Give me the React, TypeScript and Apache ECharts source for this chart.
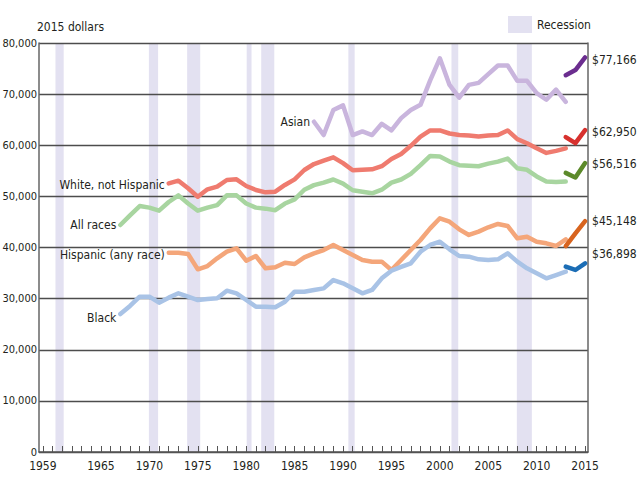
import React, { useEffect, useRef } from "react";
import * as echarts from "echarts";

const FONT = "'DejaVu Sans Condensed', 'Liberation Sans Narrow', sans-serif";

const yearsFrom = (start: number, end: number) => {
  const out: number[] = [];
  for (let y = start; y <= end; y++) out.push(y);
  return out;
};

const allRacesOld = [44400, 46300, 48100, 47800, 47200, 48900, 50200, 48600, 47200, 47800, 48300, 50200, 50200, 48600, 47800, 47600, 47300, 48600, 49400, 51300, 52200, 52700, 53300, 52500, 51200, 50900, 50600, 51300, 52700, 53300, 54400, 56100, 57900, 57800, 56800, 56100, 56000, 55900, 56400, 56800, 57400, 55500, 55200, 53900, 52900, 52800, 52900];
const whiteOld = [52550, 53070, 51580, 49940, 51380, 51900, 53200, 53330, 52030, 51250, 50790, 50920, 52230, 53330, 55160, 56330, 57000, 57640, 56500, 55100, 55200, 55300, 55900, 57300, 58300, 59900, 61700, 62900, 62900, 62300, 62000, 61900, 61700, 61900, 62000, 62900, 61200, 60400, 59400, 58500, 58900, 59400];
const asianOld = [64600, 62000, 66900, 67800, 62000, 62700, 62000, 64200, 62900, 65300, 66900, 67900, 72700, 77000, 71800, 69300, 71800, 72200, 73900, 75600, 75600, 72600, 72600, 70200, 68900, 70900, 68500];
const hispanicOld = [38990, 38990, 38730, 35730, 36380, 37880, 39180, 39840, 37420, 38340, 35930, 36120, 37030, 36770, 38080, 38860, 39500, 40490, 39510, 38530, 37560, 37230, 37230, 35600, 37560, 39510, 41470, 43750, 45710, 45050, 43550, 42450, 43100, 43950, 44600, 44210, 41800, 42120, 41140, 40820, 40290, 41600];
const blackOld = [26990, 28560, 30380, 30380, 29210, 30190, 31040, 30380, 29730, 29930, 30060, 31560, 31040, 29730, 28420, 28420, 28300, 29400, 31360, 31360, 31690, 32000, 33640, 33000, 32020, 31040, 31690, 33970, 35470, 36200, 36910, 39180, 40490, 41140, 39650, 38340, 38210, 37690, 37560, 37690, 38860, 37230, 35930, 34950, 33970, 34620, 35270];

const newYears = [2013, 2014, 2015];
const asianNew = [73700, 74700, 77166];
const whiteNew = [61600, 60400, 62950];
const allRacesNew = [54600, 53700, 56516];
const hispanicNew = [40290, 42780, 45148];
const blackNew = [36250, 35600, 36898];

const recessions: [number, number][] = [
  [1960.3, 1961.15],
  [1969.95, 1970.9],
  [1973.9, 1975.25],
  [1980.05, 1980.55],
  [1981.55, 1982.9],
  [1990.55, 1991.2],
  [2001.2, 2001.9],
  [2007.95, 2009.5],
];

const xLabelYears = [1959, 1965, 1970, 1975, 1980, 1985, 1990, 1995, 2000, 2005, 2010, 2015];
const xTickYears = yearsFrom(1959, 2015);

const fmt = (v: number) => v.toLocaleString("en-US");

function oldSeries(name: string, start: number, vals: number[], color: string, labelOffset: number[]) {
  const yrs = yearsFrom(start, start + vals.length - 1);
  return {
    type: "line",
    name,
    showSymbol: true,
    symbol: "circle",
    symbolSize: 0,
    z: 3,
    lineStyle: { color, width: 4.5, join: "round", cap: "round" },
    itemStyle: { color },
    label: { show: false },
    data: yrs.map((y, i) =>
      i === 0
        ? {
            value: [y, vals[i]],
            label: {
              show: true,
              position: "left",
              distance: 4,
              offset: labelOffset,
              formatter: name,
              fontFamily: FONT,
              fontSize: 12,
              color: "#231f20",
            },
          }
        : { value: [y, vals[i]] }
    ),
  };
}

function newSeries(name: string, vals: number[], color: string, labelOffset: number[]) {
  return {
    type: "line",
    name,
    showSymbol: true,
    symbol: "circle",
    symbolSize: 0,
    z: 4,
    lineStyle: { color, width: 4.5, join: "round", cap: "round" },
    itemStyle: { color },
    label: { show: false },
    data: newYears.map((y, i) =>
      i === vals.length - 1
        ? {
            value: [y, vals[i]],
            label: {
              show: true,
              position: "right",
              distance: 7,
              offset: labelOffset,
              formatter: "$" + fmt(vals[i]),
              fontFamily: FONT,
              fontSize: 12,
              color: "#231f20",
            },
          }
        : { value: [y, vals[i]] }
    ),
  };
}

export default function App() {
  const ref = useRef<HTMLDivElement>(null);
  useEffect(() => {
    document.body.style.margin = "0";
    const chart = echarts.init(ref.current!, undefined, { renderer: "svg" });
    const option: any = {
      animation: false,
      backgroundColor: "#ffffff",
      textStyle: { fontFamily: FONT },
      title: {
        text: "2015 dollars",
        left: 37,
        top: 21,
        padding: 0,
        textStyle: { fontFamily: FONT, fontSize: 12, fontWeight: "normal", color: "#231f20" },
      },
      legend: {
        left: 508,
        top: 16,
        padding: 0,
        itemWidth: 24,
        itemHeight: 17,
        itemGap: 4,
        data: [{ name: "Recession", icon: "rect" }],
        textStyle: { fontFamily: FONT, fontSize: 12, color: "#231f20" },
      },
      grid: { left: 39, right: 52, top: 43, bottom: 28, outerBoundsMode: "none", containLabel: false },
      xAxis: {
        type: "value",
        min: 1958.6,
        max: 2015.3,
        axisLine: { show: true, lineStyle: { color: "#555", width: 1.5 } },
        axisTick: {
          show: true,
          inside: true,
          length: 6,
          customValues: xTickYears,
          lineStyle: { color: "#555", width: 1 },
        },
        axisLabel: {
          customValues: xLabelYears,
          formatter: (v: number) => String(v),
          fontFamily: FONT,
          fontSize: 12,
          color: "#231f20",
          margin: 8,
        },
        splitLine: { show: false },
      },
      yAxis: [
        {
          type: "value",
          min: 0,
          max: 80000,
          interval: 10000,
          axisLine: { show: true, lineStyle: { color: "#666", width: 1.5 } },
          axisTick: { show: false },
          axisLabel: {
            formatter: (v: number) => fmt(v),
            fontFamily: FONT,
            fontSize: 11,
            color: "#231f20",
            margin: 2,
          },
          splitLine: { show: true, lineStyle: { color: "#4d4d4d", width: 1.3 } },
        },
        {
          type: "value",
          position: "right",
          min: 0,
          max: 80000,
          interval: 10000,
          axisLine: { show: true, lineStyle: { color: "#666", width: 1.5 } },
          axisTick: { show: false },
          axisLabel: { show: false },
          splitLine: { show: false },
        },
      ],
      series: [
        {
          type: "line",
          name: "Recession",
          data: [],
          color: "#e3e1f1",
          itemStyle: { color: "#e3e1f1" },
          lineStyle: { color: "#e3e1f1" },
          z: -1,
          markArea: {
            silent: true,
            z: -1,
            itemStyle: { color: "#e3e1f1" },
            data: recessions.map(([s, e]) => [{ xAxis: s }, { xAxis: e }]),
          },
        },
        oldSeries("Asian", 1987, asianOld, "#c9b5dd", [0, 0]),
        oldSeries("White, not Hispanic", 1972, whiteOld, "#ef7b6f", [0, 2]),
        oldSeries("All races", 1967, allRacesOld, "#a8d5a0", [0, 0]),
        oldSeries("Hispanic (any race)", 1972, hispanicOld, "#f4a67a", [0, 2]),
        oldSeries("Black", 1967, blackOld, "#a9c3e6", [0, 4]),
        newSeries("Asian 2013-2015", asianNew, "#6b2d8f", [0, 3]),
        newSeries("White 2013-2015", whiteNew, "#d7312e", [0, 2]),
        newSeries("All 2013-2015", allRacesNew, "#5c8a2a", [0, 1]),
        newSeries("Hispanic 2013-2015", hispanicNew, "#d8641f", [0, 0]),
        newSeries("Black 2013-2015", blackNew, "#1b6db5", [0, -9]),
      ],
    };
    chart.setOption(option);
    return () => chart.dispose();
  }, []);
  return <div ref={ref} style={{ width: 640, height: 480 }} />;
}
